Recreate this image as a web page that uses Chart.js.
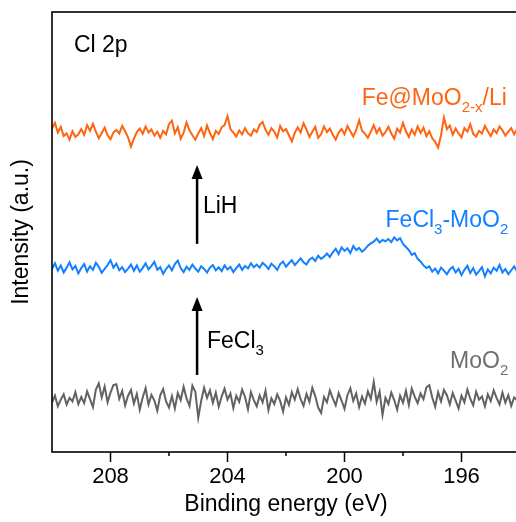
<!DOCTYPE html>
<html>
<head>
<meta charset="utf-8">
<title>Cl 2p XPS</title>
<script src="https://cdn.jsdelivr.net/npm/chart.js@4.4.1/dist/chart.umd.min.js"></script>
<style>
  html, body { margin: 0; padding: 0; background: #fff; overflow: hidden; }
  #wrap { width: 524px; height: 522px; }
</style>
</head>
<body>
<div id="wrap"><canvas id="xps" width="524" height="522"></canvas></div>
<script>
// energy grid, 210 -> 194 eV in 0.1 eV steps
const energy = [];
for (let i = 0; i <= 160; i++) energy.push(+(210 - i * 0.1).toFixed(1));

const majorTicks = [208, 204, 200, 196];
const minorTicks = [206, 202, 198, 194];
const seriesNames = ['Fe@MoO2-x/Li', 'FeCl3-MoO2', 'MoO2'];

// intensities (a.u., stacked with offsets as in the figure)
const feMoLi = [
  73.5, 74.8, 72.6, 73.9, 71.8, 72.4, 71.0, 72.9, 71.6, 72.2,
  73.4, 72.1, 74.3, 73.0, 74.6, 72.8, 71.3, 72.5, 73.7, 72.0,
  71.1, 72.6, 73.2, 72.4, 74.1, 72.9, 71.5, 69.4, 71.2, 72.7,
  73.5, 72.3, 74.0, 72.6, 73.3, 71.9, 72.8, 71.4, 73.0, 72.2,
  74.5, 75.3, 72.4, 73.8, 71.2, 72.6, 74.9, 73.1, 72.0, 71.0,
  72.4, 73.6, 71.8, 74.2, 72.5, 71.1, 73.0, 72.3, 73.8, 74.3,
  76.3, 73.4, 72.6, 71.7, 73.1, 72.2, 73.6, 72.4, 71.9, 73.3,
  72.7, 74.4, 75.0, 73.2, 72.1, 73.6, 72.8, 71.5, 74.1, 72.9,
  73.4, 72.0, 70.6, 72.5, 73.8, 72.6, 74.7, 73.3, 71.6, 72.8,
  73.9, 71.4, 72.2, 74.0, 72.7, 73.5, 72.1, 71.0, 72.6, 73.4,
  72.2, 74.1, 72.9, 71.7, 73.2, 75.4, 73.0, 72.3, 71.4, 72.8,
  74.3, 72.5, 73.6, 71.9, 72.7, 73.9, 72.4, 71.2, 73.5, 72.6,
  74.8, 72.9, 71.6, 73.3, 72.1, 74.0, 72.5, 73.7, 71.8, 72.9,
  71.3, 70.5, 69.2, 72.0, 76.0, 73.4, 74.2, 72.1, 73.5, 72.4,
  71.5, 73.6, 72.8, 74.5, 72.3, 71.7, 73.0, 72.4, 74.1, 72.9,
  71.8, 73.3, 72.5, 74.0, 73.1, 71.9, 72.8, 73.6, 72.2, 73.4, 72.7
];
const feCl3MoO2 = [
  41.6, 42.9, 41.2, 42.4, 40.8, 41.9, 43.1, 41.5, 42.3, 40.6,
  41.8, 42.7, 41.0, 42.2, 41.4, 43.0, 42.1, 40.7, 41.6, 42.5,
  43.6, 41.9, 42.8, 41.3, 42.0, 40.9, 41.7, 42.6, 41.2, 42.4,
  41.0, 41.8, 42.9, 41.5, 42.3, 43.2, 41.4, 42.0, 40.5, 41.6,
  42.4, 41.3, 42.7, 43.5, 41.8, 40.9, 42.1, 41.4, 42.6, 41.7,
  41.0, 42.2, 41.6, 40.8, 41.9, 42.5, 41.3, 42.0, 41.1, 42.4,
  41.5, 42.1, 40.9, 41.8, 42.6, 41.4, 42.3, 41.7, 42.9, 42.0,
  42.6, 41.9, 43.0, 42.4, 41.6, 42.8, 42.2, 41.4, 42.7, 43.3,
  42.1, 42.9, 43.6, 42.5, 43.2, 44.0, 43.1, 42.6, 43.7, 44.2,
  43.4, 44.6, 43.9, 44.4, 45.1, 44.3, 45.4, 46.2, 45.0, 46.5,
  45.7, 46.3, 45.2, 46.8, 45.9, 46.4, 45.5, 46.1, 46.9, 47.4,
  47.8, 48.5, 47.6, 48.2, 47.9, 48.4, 47.7, 48.8, 48.1, 48.6,
  47.3, 46.6, 45.9, 44.8, 45.2, 43.9, 43.3, 42.4, 41.8, 42.2,
  41.0, 41.7, 40.6, 41.9, 41.2, 40.4, 41.5, 42.1, 40.8, 41.6,
  40.2, 41.4, 42.3, 40.7, 41.8, 40.3, 41.1, 42.0, 39.9, 41.5,
  40.6, 41.9, 41.2, 42.5, 40.8, 41.6, 40.4, 41.3, 42.2, 41.0, 41.7
];
const moO2 = [
  11.2, 12.8, 10.4, 11.9, 13.1, 10.8, 12.3, 11.5, 13.6, 10.9,
  12.5, 11.1, 13.8, 12.0, 10.2, 14.2, 15.6, 12.4, 14.9, 11.3,
  13.5, 15.2, 15.4, 12.1, 13.9, 10.6, 12.8, 14.1, 11.0, 13.2,
  9.6, 12.4, 14.5, 10.8, 13.0, 11.7, 9.4, 12.9, 14.3, 11.5,
  10.1, 12.7, 9.9, 13.4, 11.8, 14.8, 12.2, 10.5, 15.1, 13.7,
  7.8, 11.6, 14.6, 12.3, 14.0, 11.2, 13.5, 10.3, 12.6, 14.4,
  11.9, 13.3, 10.0, 12.8, 11.4, 14.2, 12.5, 9.7, 13.6, 11.8,
  10.4, 12.9, 11.3, 13.9, 9.5, 12.2, 10.9, 13.1, 11.6, 9.2,
  12.4, 10.7, 13.6, 11.9, 14.3, 12.0, 10.5, 13.2, 11.4, 14.6,
  12.7, 10.1, 8.9, 12.5, 11.3, 14.0, 12.2, 10.6, 13.4, 11.7,
  9.8, 12.9, 14.5, 11.6, 13.3, 10.2, 12.6, 11.0, 13.8, 12.1,
  15.9, 11.4, 13.7, 8.4, 12.3, 10.9, 13.5, 11.8, 9.6, 12.8,
  11.2, 13.9, 10.7, 14.4, 12.6, 11.1, 13.3, 12.0, 14.7, 15.2,
  12.4, 10.3, 13.6, 11.5, 14.1, 12.9, 10.8, 13.4, 11.7, 9.9,
  12.8, 11.3, 14.2, 12.1, 10.6, 13.7, 11.9, 12.6, 10.4, 13.1,
  11.6, 14.0, 12.3, 10.8, 13.5, 11.2, 12.9, 10.5, 12.4, 11.8, 13.0
];

const ORANGE = 'rgb(255, 100, 16)';
const BLUE = 'rgb(18, 128, 255)';
const GRAY = 'rgb(98, 98, 98)';
const FONT = "'Liberation Sans', Arial, sans-serif";

function toPoints(vals) {
  return energy.map((e, i) => ({ x: e, y: vals[i] }));
}

// text with subscripts
function drawParts(ctx, parts, x, y, align, color) {
  const big = '23px ' + FONT;
  const small = '15px ' + FONT;
  let w = 0;
  parts.forEach(p => { ctx.font = p.sub ? small : big; w += ctx.measureText(p.t).width; });
  let cx = align === 'right' ? x - w : x;
  ctx.fillStyle = color;
  ctx.textAlign = 'left';
  ctx.textBaseline = 'alphabetic';
  parts.forEach(p => {
    ctx.font = p.sub ? small : big;
    ctx.fillText(p.t, cx, p.sub ? y + 7 : y);
    cx += ctx.measureText(p.t).width;
  });
}

const notes = [
  { parts: [{ t: 'Cl 2p' }], e: 209.25, v: 90.9, align: 'left', color: '#000' },
  { parts: [{ t: 'Fe@MoO' }, { t: '2-x', sub: true }, { t: '/Li' }], e: 194.45, v: 78.9, align: 'right', color: ORANGE },
  { parts: [{ t: 'FeCl' }, { t: '3', sub: true }, { t: '-MoO' }, { t: '2', sub: true }], e: 194.4, v: 51.1, align: 'right', color: BLUE },
  { parts: [{ t: 'MoO' }, { t: '2', sub: true }], e: 194.4, v: 19.1, align: 'right', color: 'rgb(110, 110, 110)' },
  { parts: [{ t: 'LiH' }], e: 204.84, v: 54.3, align: 'left', color: '#000' },
  { parts: [{ t: 'FeCl' }, { t: '3', sub: true }], e: 204.7, v: 23.6, align: 'left', color: '#000' }
];
const arrows = [
  { e: 205.04, from: 17.5, to: 35.2 },
  { e: 205.04, from: 47.3, to: 65.2 }
];

const decor = {
  id: 'decor',
  afterDraw(chart) {
    const { ctx, chartArea: a, scales: { x, y } } = chart;
    ctx.save();
    // frame
    ctx.strokeStyle = '#000';
    ctx.lineWidth = 1.6;
    ctx.strokeRect(a.left, a.top, a.right - a.left, a.bottom - a.top);
    // minor ticks
    ctx.lineWidth = 1.5;
    minorTicks.forEach(v => {
      const px = x.getPixelForValue(v);
      ctx.beginPath();
      ctx.moveTo(px, a.bottom);
      ctx.lineTo(px, a.bottom + 4);
      ctx.stroke();
    });
    // arrows
    arrows.forEach(ar => {
      const px = x.getPixelForValue(ar.e);
      const y0 = y.getPixelForValue(ar.from);
      const y1 = y.getPixelForValue(ar.to);
      ctx.lineWidth = 2.5;
      ctx.beginPath();
      ctx.moveTo(px, y0);
      ctx.lineTo(px, y1 + 12);
      ctx.stroke();
      ctx.fillStyle = '#000';
      ctx.beginPath();
      ctx.moveTo(px, y1);
      ctx.lineTo(px - 5.5, y1 + 14);
      ctx.lineTo(px + 5.5, y1 + 14);
      ctx.closePath();
      ctx.fill();
    });
    notes.forEach(n => {
      drawParts(ctx, n.parts, x.getPixelForValue(n.e), y.getPixelForValue(n.v), n.align, n.color);
    });
    ctx.restore();
  }
};

new Chart(document.getElementById('xps'), {
  type: 'line',
  data: {
    datasets: [
      { label: seriesNames[0], data: toPoints(feMoLi), borderColor: ORANGE },
      { label: seriesNames[1], data: toPoints(feCl3MoO2), borderColor: BLUE },
      { label: seriesNames[2], data: toPoints(moO2), borderColor: GRAY }
    ]
  },
  options: {
    responsive: false,
    animation: false,
    devicePixelRatio: 1,
    layout: { padding: { top: 12, right: 4, left: 0, bottom: 0 } },
    elements: {
      line: { borderWidth: 2, tension: 0 },
      point: { radius: 0 }
    },
    plugins: { legend: { display: false }, tooltip: { enabled: false } },
    scales: {
      x: {
        type: 'linear',
        min: 194,
        max: 210,
        reverse: true,
        afterBuildTicks: s => { s.ticks = majorTicks.map(v => ({ value: v })); },
        afterFit: s => { s.height = 70; },
        border: { display: false },
        grid: { drawOnChartArea: false, drawTicks: true, tickLength: 10, tickWidth: 1.5, tickColor: '#000' },
        ticks: { color: '#000', font: { family: FONT, size: 22 }, padding: 2, maxRotation: 0 },
        title: { display: true, text: 'Binding energy (eV)', color: '#000', font: { family: FONT, size: 23 }, padding: { top: 0, bottom: 4 } }
      },
      y: {
        min: 0,
        max: 100,
        afterFit: s => { s.width = 52; },
        border: { display: false },
        grid: { display: false },
        ticks: { display: false },
        title: { display: true, text: 'Intensity (a.u.)', color: '#000', font: { family: FONT, size: 23 }, padding: { top: 8, bottom: 0 } }
      }
    }
  },
  plugins: [decor]
});
</script>
</body>
</html>
